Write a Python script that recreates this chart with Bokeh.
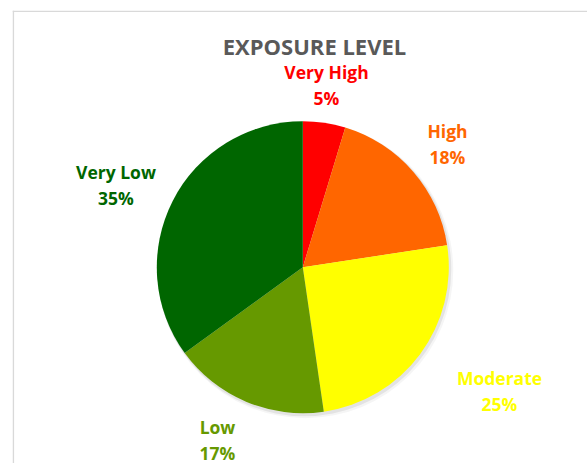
import math
from bokeh.plotting import figure
from bokeh.models import Range1d, Span, ColumnDataSource
from bokeh.core.properties import value
from bokeh.embed import file_html
from bokeh.resources import INLINE

# Data
categories = ["Very High", "High", "Moderate", "Low", "Very Low"]
shares = [4.7, 17.9, 25.1, 17.3, 35.0]
colors = ["#FF0000", "#FF6600", "#FFFF00", "#669900", "#006600"]
label_colors = ["#FF0000", "#FF6600", "#FFFF00", "#669900", "#006600"]
title_text = "EXPOSURE LEVEL"

# Layout (pixel space of the frame)
W, H = 587, 463
BL, BT = 12, 10
FW, FH = W - BL, H - BT
cx, cy, r = 290.3, 196.3, 146
# label anchor positions (frame coords)
label_x = [314, 435, 487, 205, 103.5]
label_y_top = [392, 333, 86, 37, 292]
line_gap = 26

p = figure(width=W, height=H, output_backend="svg", toolbar_location=None,
           x_range=Range1d(0, FW), y_range=Range1d(0, FH),
           min_border_left=BL, min_border_top=BT, min_border_right=0, min_border_bottom=0)
p.axis.visible = False
p.grid.visible = False
p.outline_line_color = None
p.background_fill_color = "white"
p.border_fill_color = "white"

# border of chart area
p.add_layout(Span(location=0.8, dimension="height", line_color="#D9D9D9", line_width=1.6))
p.add_layout(Span(location=FH - 0.8, dimension="width", line_color="#D9D9D9", line_width=1.6))

# shadow
p.circle(x=[cx + 2.5], y=[cy - 3], radius=r + 2, fill_color="#000000", fill_alpha=0.04, line_color=None)
p.circle(x=[cx + 1.5], y=[cy - 2], radius=r + 1, fill_color="#000000", fill_alpha=0.07, line_color=None)

total = float(sum(shares))
starts, ends = [], []
cum = 0.0
for s in shares:
    starts.append(math.pi / 2 - 2 * math.pi * cum / total)
    cum += s
    ends.append(math.pi / 2 - 2 * math.pi * cum / total)

src = ColumnDataSource(dict(cat=categories, start=starts, end=ends, color=colors))
p.wedge(x=cx, y=cy, radius=r, start_angle="start", end_angle="end", direction="clock",
        fill_color="color", line_color=None, source=src)

# labels
lsrc = ColumnDataSource(dict(
    x=label_x + label_x,
    y=label_y_top + [yy - line_gap for yy in label_y_top],
    t=categories + [f"{round(s / total * 100)}%" for s in shares],
    c=label_colors + label_colors,
))
p.text(x="x", y="y", text="t", text_color="c", source=lsrc,
       text_font=value("Open Sans"), text_font_style="bold", text_font_size="17.5px",
       text_align="center", text_baseline="middle")

# title
p.text(x=[302], y=[418], text=[title_text], text_color="#595959",
       text_font=value("Open Sans"), text_font_style="bold", text_font_size="22px",
       text_align="center", text_baseline="middle")

open("out.html", "w").write(file_html(p, INLINE))
